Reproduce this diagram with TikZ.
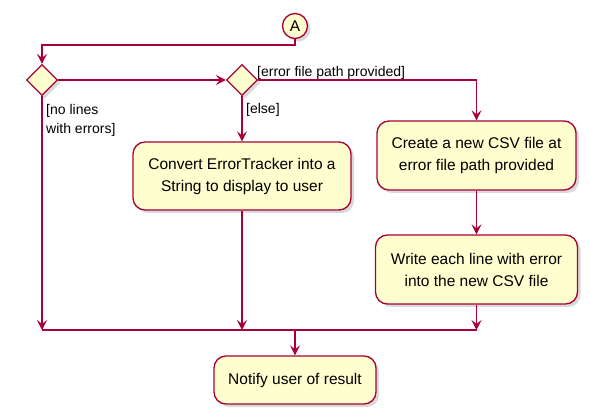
\documentclass[tikz,border=0pt]{standalone}
\usepackage{fontspec}
\setmainfont{Liberation Sans}
\usetikzlibrary{shapes.geometric,arrows.meta,shadows}
\definecolor{puline}{HTML}{A80036}
\definecolor{pufill}{HTML}{FEFECE}
\tikzset{
  x=1pt,y=1pt,
  shad/.style={drop shadow={shadow xshift=3pt,shadow yshift=-3pt,opacity=0.25,fill=black!60}},
  actbox/.style={draw=puline,fill=pufill,line width=1.3pt,rounded corners=12pt,shad,
    align=center,font=\fontsize{15.5}{22}\selectfont,inner sep=0pt},
  dia/.style={draw=puline,fill=pufill,line width=1.3pt,diamond,aspect=1,minimum size=31pt,inner sep=0pt,shad},
  conn/.style={draw=puline,line width=1.3pt},
  arr/.style={conn,-{Stealth[length=10pt,width=10pt,inset=4pt]}},
  lbl/.style={font=\fontsize{14}{19}\selectfont,align=left,inner sep=0pt},
}
\begin{document}
\begin{tikzpicture}
\useasboundingbox (0,0) rectangle (590,-417);
\node[circle,draw=puline,fill=pufill,line width=1.3pt,minimum size=25pt,inner sep=0pt,shad,font=\fontsize{15.5}{18}\selectfont] (A) at (295,-26) {A};
\node[dia] (d1) at (42,-80) {};
\node[dia] (d2) at (242,-80) {};
\node[actbox,minimum width=218pt,minimum height=68pt] (convert) at (242,-176) {Convert ErrorTracker into a\\String to display to user};
\node[actbox,minimum width=199pt,minimum height=69pt] (create) at (476.5,-155.5) {Create a new CSV file at\\error file path provided};
\node[actbox,minimum width=202pt,minimum height=69pt] (write) at (476.5,-269.5) {Write each line with error\\into the new CSV file};
\node[actbox,minimum width=162pt,minimum height=48pt] (notify) at (295,-380) {Notify user of result};
\coordinate (mL) at (42,-330);
\coordinate (mC) at (242,-330);
\coordinate (mR) at (476.5,-330);
\coordinate (mN) at (295,-330);
\coordinate (aB) at (295,-45);
\coordinate (aL) at (42,-45);
\coordinate (cT) at (476.5,-80);
% connectors
\draw[arr] (A.south) -- (aB) -- (aL) -- (d1.north);
\draw[arr] (d1.east) -- (d2.west);
\draw[arr] (d2.east) -- (cT) -- (create.north);
\draw[arr] (d2.south) -- (convert.north);
\draw[arr] (create.south) -- (write.north);
\draw[arr] (d1.south) -- (mL);
\draw[arr] (convert.south) -- (mC);
\draw[arr] (write.south) -- (mR);
\draw[conn] (mL) -- (mR);
\draw[arr] (mN) -- (notify.north);
% labels
\node[lbl,anchor=base west] (l1) at (257,-77) {[error file path provided]};
\node[lbl,anchor=base west] (l2) at (246,-114) {[else]};
\node[lbl,anchor=north west] (l3) at (46,-104) {[no lines\\with errors]};
\end{tikzpicture}
\end{document}
